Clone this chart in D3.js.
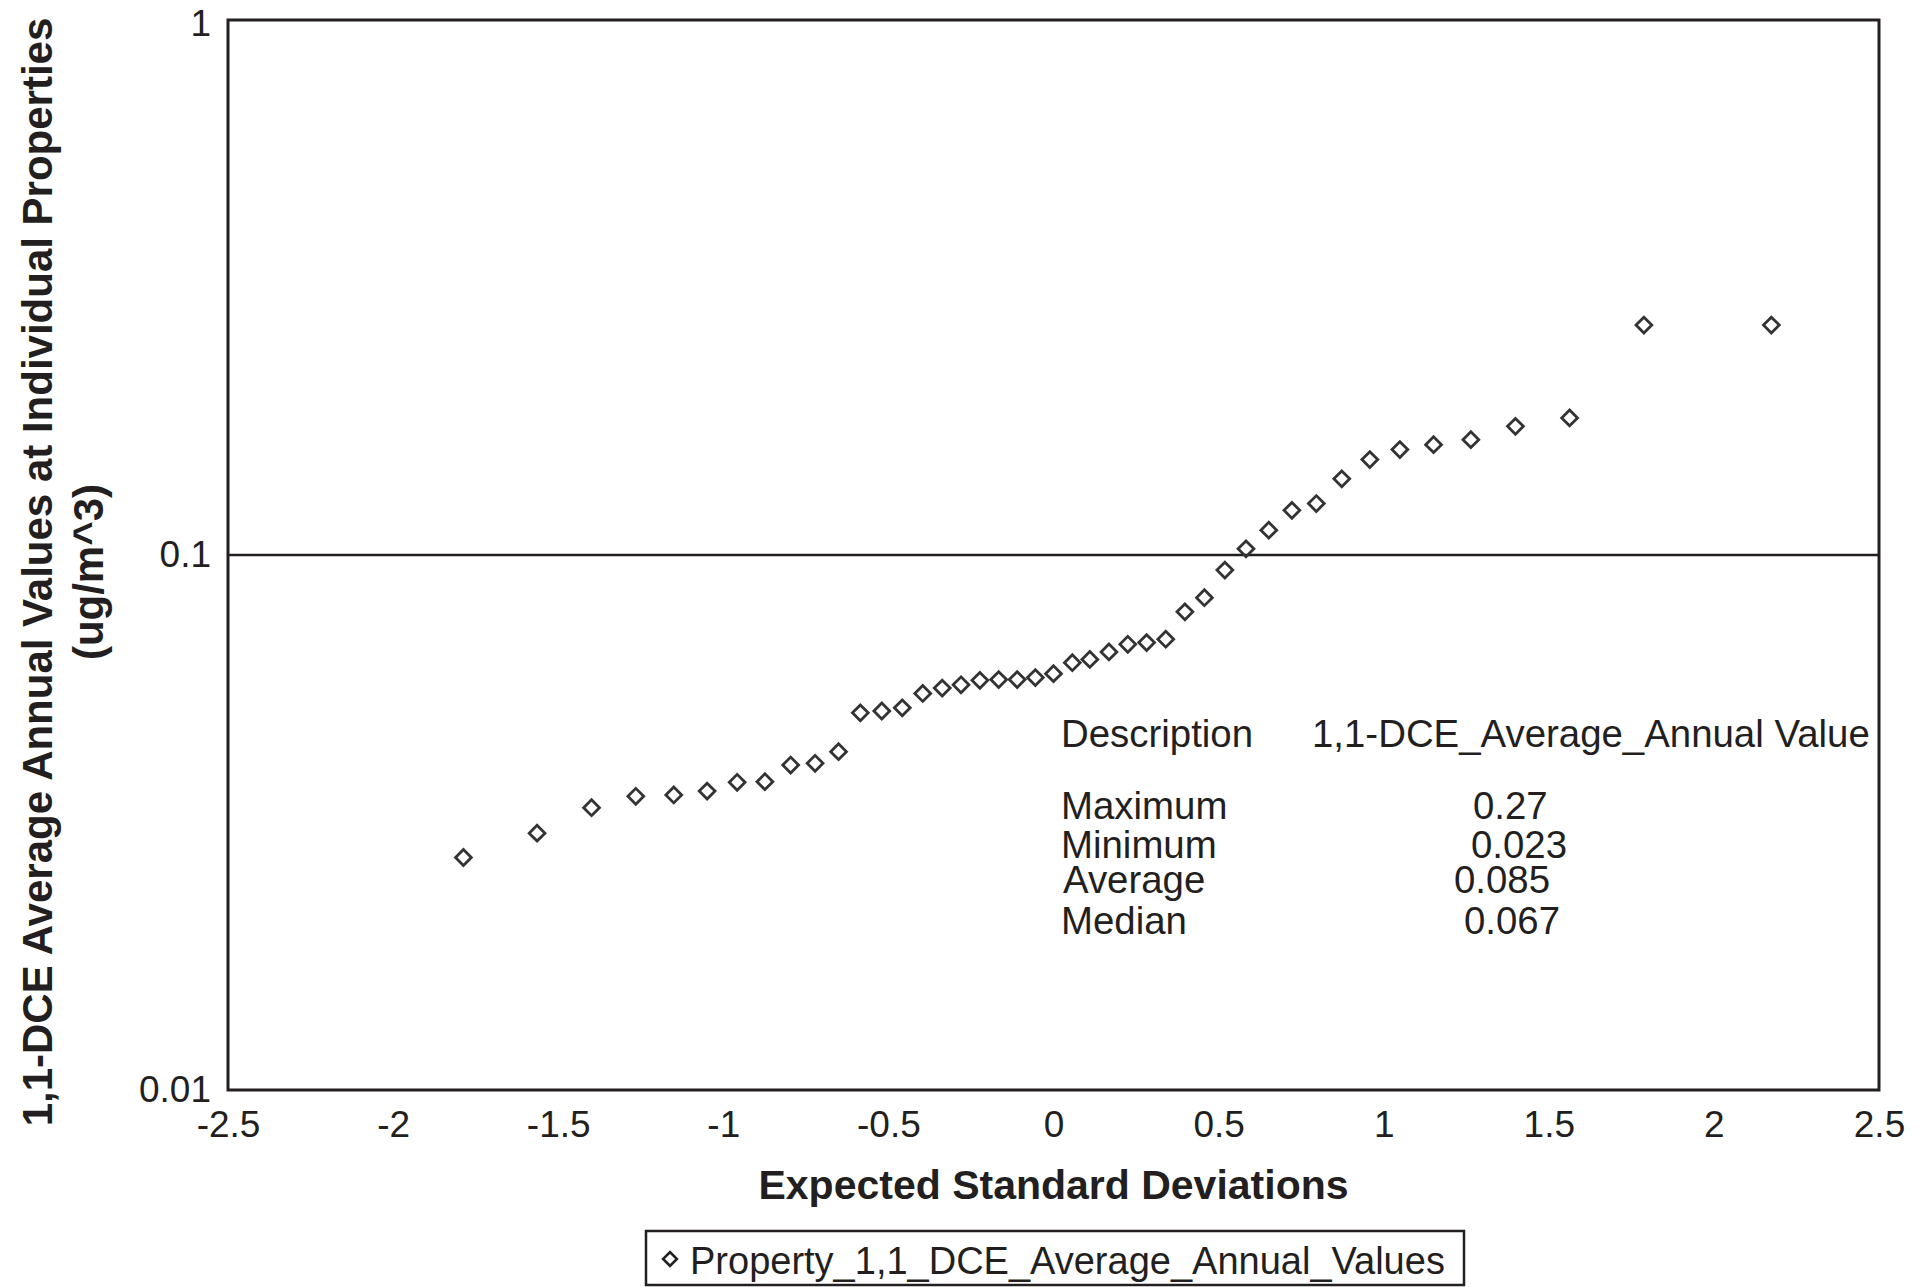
<!DOCTYPE html>
<html>
<head>
<meta charset="utf-8">
<script src="https://cdn.jsdelivr.net/npm/d3@7"></script>
<style>
  body { margin: 0; background: #fff; }
  svg { display: block; font-family: "Liberation Sans", Arial, sans-serif; }
</style>
</head>
<body>
<div id="chart"></div>
<script>
// expected standard deviations (normal scores) for each property
const zScores = [-1.787, -1.564, -1.399, -1.265, -1.150, -1.049, -0.958, -0.874, -0.796, -0.722,
  -0.651, -0.585, -0.520, -0.458, -0.396, -0.337, -0.280, -0.223, -0.166, -0.110,
  -0.055, 0.000, 0.057, 0.110, 0.168, 0.225, 0.282, 0.340, 0.398, 0.457,
  0.519, 0.583, 0.652, 0.722, 0.796, 0.873, 0.958, 1.049, 1.151, 1.264,
  1.399, 1.563, 1.788, 2.174];
// average annual values (ug/m^3), sorted
const annualValues = [0.0272, 0.0302, 0.0337, 0.0354, 0.0356, 0.0362, 0.0376, 0.0377, 0.0405, 0.0408,
  0.0429, 0.0507, 0.0511, 0.0518, 0.0551, 0.0564, 0.0572, 0.0583, 0.0585, 0.0585,
  0.0590, 0.0600, 0.0629, 0.0638, 0.0659, 0.0681, 0.0686, 0.0696, 0.0783, 0.0832,
  0.0937, 0.1027, 0.1113, 0.1212, 0.1248, 0.1388, 0.1508, 0.1574, 0.1608, 0.1643,
  0.1740, 0.1804, 0.269, 0.269];

const xTicks = [-2.5, -2, -1.5, -1, -0.5, 0, 0.5, 1, 1.5, 2, 2.5];
const yTicks = [0.01, 0.1, 1];
const yTickLabels = ["0.01", "0.1", "1"];

const statNames = ["Maximum", "Minimum", "Average", "Median"];
const statValues = ["0.27", "0.023", "0.085", "0.067"];
const seriesName = "Property_1,1_DCE_Average_Annual_Values";

const W = 1921, H = 1287;
const margin = {left: 228, right: 42, top: 20, bottom: 197};
const ink = "#231f20";

const svg = d3.select("#chart").append("svg")
  .attr("width", W)
  .attr("height", H);

const x = d3.scaleLinear().domain([-2.5, 2.5]).range([margin.left, W - margin.right]);
const y = d3.scaleLog().domain([0.01, 1]).range([H - margin.bottom, margin.top]);

// axes (labels only, no tick marks), plain hyphen for negatives
const xAxis = svg.append("g")
  .attr("transform", `translate(0, ${H - margin.bottom})`)
  .call(d3.axisBottom(x).tickValues(xTicks).tickSize(0).tickPadding(21).tickFormat(d => String(d)));
xAxis.select(".domain").remove();
xAxis.selectAll("text").attr("font-size", 37).attr("fill", ink).attr("font-family", null);

const yAxis = svg.append("g")
  .attr("transform", `translate(${margin.left}, 0)`)
  .call(d3.axisLeft(y).tickValues(yTicks).tickSize(0).tickPadding(17)
    .tickFormat((d, i) => yTickLabels[i]));
yAxis.select(".domain").remove();
yAxis.selectAll("text").attr("font-size", 37).attr("fill", ink).attr("font-family", null);
yAxis.selectAll(".tick").filter(d => d === 1).select("text").attr("dy", "0.42em");

// the single gridline at 0.1
svg.append("line")
  .attr("x1", x(-2.5)).attr("x2", x(2.5))
  .attr("y1", y(0.1)).attr("y2", y(0.1))
  .attr("stroke", ink).attr("stroke-width", 2.6);

// plot frame
svg.append("rect")
  .attr("x", x(-2.5)).attr("y", y(1))
  .attr("width", x(2.5) - x(-2.5))
  .attr("height", y(0.01) - y(1))
  .attr("fill", "none")
  .attr("stroke", ink)
  .attr("stroke-width", 3);

// points: hollow diamonds
const diamond = d3.symbol(d3.symbolSquare, 125);
svg.append("g").selectAll("path")
  .data(zScores.map((z, i) => ({z: z, v: annualValues[i]})))
  .enter()
  .append("path")
  .attr("d", diamond)
  .attr("transform", d => `translate(${x(d.z)}, ${y(d.v)}) rotate(45)`)
  .attr("fill", "none")
  .attr("stroke", "#333")
  .attr("stroke-width", 2.8);

// statistics text block
const statX = 1061, valX = [1473, 1471, 1454, 1464], statY = [819, 858, 893, 934];
const stats = svg.append("g").attr("font-size", 38.4).attr("fill", ink);
stats.append("text").attr("x", statX).attr("y", 747).text("Description");
stats.append("text").attr("x", 1312).attr("y", 747).text("1,1-DCE_Average_Annual Value");
statNames.forEach((s, i) => {
  stats.append("text").attr("x", statX + (i === 2 ? 2 : 0)).attr("y", statY[i]).text(s);
  stats.append("text").attr("x", valX[i]).attr("y", statY[i]).text(statValues[i]);
});

// axis titles
svg.append("text")
  .attr("x", (x(-2.5) + x(2.5)) / 2)
  .attr("y", 1199)
  .attr("text-anchor", "middle")
  .attr("font-size", 41)
  .attr("font-weight", "bold")
  .attr("fill", ink)
  .text("Expected Standard Deviations");

const yTitle = svg.append("text")
  .attr("transform", "translate(0, 572) rotate(-90)")
  .attr("text-anchor", "middle")
  .attr("font-size", 42)
  .attr("font-weight", "bold")
  .attr("fill", ink);
yTitle.append("tspan").attr("x", 0).attr("y", 52).text("1,1-DCE Average Annual Values at Individual Properties");
yTitle.append("tspan").attr("x", 0).attr("y", 103).text("(ug/m^3)");

// legend
const legend = svg.append("g");
legend.append("rect")
  .attr("x", 646).attr("y", 1231)
  .attr("width", 818).attr("height", 54)
  .attr("fill", "none")
  .attr("stroke", ink)
  .attr("stroke-width", 2.5);
legend.append("path")
  .attr("d", d3.symbol(d3.symbolSquare, 95))
  .attr("transform", "translate(670, 1259) rotate(45)")
  .attr("fill", "none")
  .attr("stroke", ink)
  .attr("stroke-width", 2.6);
legend.append("text")
  .attr("x", 690).attr("y", 1274)
  .attr("font-size", 38)
  .attr("fill", ink)
  .text(seriesName);
</script>
</body>
</html>
